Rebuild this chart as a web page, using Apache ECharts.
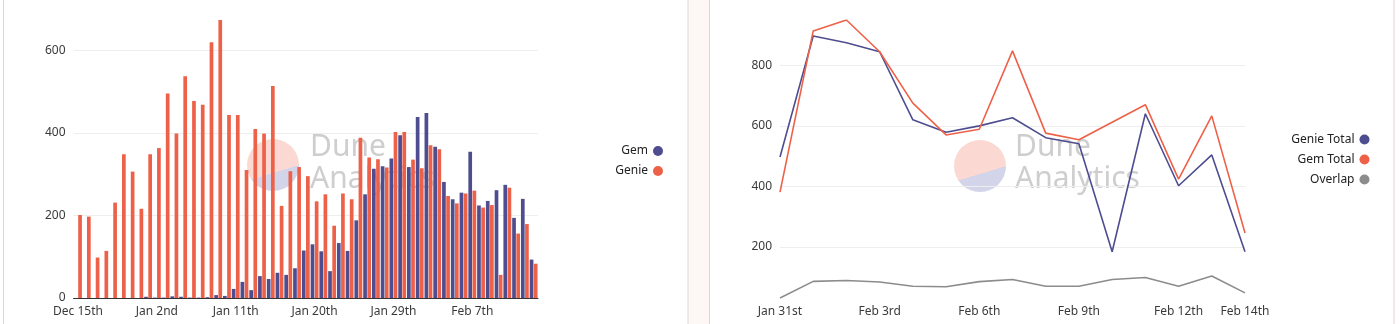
<!DOCTYPE html>
<html>
<head>
<meta charset="utf-8">
<script src="https://cdn.jsdelivr.net/npm/echarts@6/dist/echarts.min.js"></script>
<style>
html,body{margin:0;padding:0;background:#fff;}
#c{width:1400px;height:324px;}
</style>
</head>
<body>
<div id="c"></div>
<script>
// ---- Left chart: daily counts ----
const barDates = ["Dec 15th","Dec 17th","Dec 19th","Dec 21st","Dec 23rd","Dec 25th","Dec 27th","Dec 29th","Dec 31st",
  "Jan 2nd","Jan 3rd","Jan 4th","Jan 5th","Jan 6th","Jan 7th","Jan 8th","Jan 9th","Jan 10th","Jan 11th","Jan 12th",
  "Jan 13th","Jan 14th","Jan 15th","Jan 16th","Jan 17th","Jan 18th","Jan 19th","Jan 20th","Jan 21st","Jan 22nd",
  "Jan 23rd","Jan 24th","Jan 25th","Jan 26th","Jan 27th","Jan 28th","Jan 29th","Jan 30th","Jan 31st","Feb 1st",
  "Feb 2nd","Feb 3rd","Feb 4th","Feb 5th","Feb 6th","Feb 7th","Feb 8th","Feb 9th","Feb 10th","Feb 11th",
  "Feb 12th","Feb 13th","Feb 14th"];
const gemDaily = [0,0,0,0,0,0,0,0,3,1,1,4,3,1,1,2,7,5,22,39,19,53,46,61,56,72,115,130,113,65,133,114,188,251,313,319,338,394,317,438,448,366,281,239,255,354,224,235,261,274,194,240,93];
const genieDaily = [201,197,98,114,231,348,306,216,348,363,495,398,537,477,468,619,673,443,443,310,409,398,513,223,307,317,295,234,251,175,253,239,388,340,336,316,402,402,335,314,370,360,247,229,253,260,219,225,56,267,156,179,83];

// ---- Right chart: totals ----
const lineDates = ["Jan 31st","Feb 1st","Feb 2nd","Feb 3rd","Feb 4th","Feb 5th","Feb 6th","Feb 7th","Feb 8th","Feb 9th","Feb 10th","Feb 11th","Feb 12th","Feb 13th","Feb 14th"];
const genieTotal = [497,897,875,845,620,579,600,627,561,541,184,640,402,504,184];
const gemTotal = [381,914,950,845,675,570,589,848,576,554,612,670,424,633,246];
const overlap = [31,86,89,84,70,68,85,92,70,70,92,99,70,104,48];

const C_NAVY = '#4e4d8f';
const C_RED = '#ee6149';
const C_GREY = '#8c8c8c';
const FONT = 'Noto Sans';
const labelColor = '#3a3a3a';

const chart = echarts.init(document.getElementById('c'), null, {renderer:'canvas'});

function watermark(cx, cy, tx){
  return {
    type:'group', z:100, silent:true,
    children:[
      {type:'circle', shape:{cx:cx, cy:cy, r:26},
       style:{fill:new echarts.graphic.LinearGradient(0.35,0,0.65,1,[
         {offset:0,color:'rgba(250,200,192,0.7)'},{offset:0.64,color:'rgba(250,200,192,0.7)'},
         {offset:0.64,color:'rgba(196,198,226,0.75)'},{offset:1,color:'rgba(196,198,226,0.75)'}])}},
      {type:'text', x:tx, y:162, style:{text:'Dune', fill:'rgba(185,185,185,0.7)', font:'30px "'+FONT+'"', textVerticalAlign:'bottom', verticalAlign:'bottom'}},
      {type:'text', x:tx, y:194, style:{text:'Analytics', fill:'rgba(185,185,185,0.7)', font:'30px "'+FONT+'"', textVerticalAlign:'bottom', verticalAlign:'bottom'}}
    ]
  };
}

const option = {
  animation:false,
  backgroundColor:'#fff',
  textStyle:{fontFamily:FONT},
  graphic:[
    {type:'rect', z:-10, shape:{x:688,y:-2,width:21,height:330}, style:{fill:'#fdf8f6'}},
    {type:'rect', z:-9, shape:{x:3.5,y:-2,width:684.5,height:330}, style:{fill:'#fff', stroke:'#e4d3d0', lineWidth:1}},
    {type:'rect', z:-9, shape:{x:709.5,y:-2,width:684.5,height:330}, style:{fill:'#fff', stroke:'#e4d3d0', lineWidth:1}},
    watermark(273,165,310),
    watermark(980,166,1015)
  ],
  legend:[
    {orient:'vertical', align:'right', right:732, top:140, itemWidth:10, itemHeight:10, itemGap:8, icon:'circle',
     textStyle:{color:'#222', fontSize:12, fontFamily:FONT}, data:['Gem','Genie']},
    {orient:'vertical', align:'right', right:25.5, top:128.5, itemWidth:10, itemHeight:10, itemGap:8, icon:'circle',
     textStyle:{color:'#222', fontSize:12, fontFamily:FONT}, data:['Genie Total','Gem Total','Overlap']}
  ],
  grid:[
    {left:73.6, right:862, top:20, bottom:26},
    {left:780, right:155, top:20, bottom:26}
  ],
  xAxis:[
    {type:'category', gridIndex:0, data:barDates, boundaryGap:true,
     axisLine:{lineStyle:{color:'#333', width:1}}, axisTick:{show:false},
     axisLabel:{interval:8, color:labelColor, fontSize:12, margin:8, fontFamily:FONT}},
    {type:'category', gridIndex:1, data:lineDates, boundaryGap:false,
     axisLine:{show:false}, axisTick:{show:false},
     axisLabel:{interval:function(i){return i%3===0 || i===14;}, color:labelColor, fontSize:12, margin:8, fontFamily:FONT}}
  ],
  yAxis:[
    {type:'value', gridIndex:0, min:0, max:'dataMax', interval:200,
     axisLine:{show:false}, axisTick:{show:false},
     axisLabel:{color:labelColor, fontSize:12, margin:8, showMaxLabel:false, fontFamily:FONT},
     splitLine:{lineStyle:{color:'#eeeeee'}, showMaxLine:false, showMinLine:false}},
    {type:'value', gridIndex:1, min:'dataMin', max:'dataMax',
     axisLine:{show:false}, axisTick:{show:false},
     axisLabel:{color:labelColor, fontSize:12, margin:8, showMinLabel:false, showMaxLabel:false, fontFamily:FONT},
     splitLine:{lineStyle:{color:'#eeeeee'}, showMaxLine:false, showMinLine:false}}
  ],
  series:[
    {name:'Gem', type:'bar', xAxisIndex:0, yAxisIndex:0, data:gemDaily, barWidth:3.7, barGap:'12%', itemStyle:{color:C_NAVY}},
    {name:'Genie', type:'bar', xAxisIndex:0, yAxisIndex:0, data:genieDaily, barWidth:3.7, barGap:'12%', itemStyle:{color:C_RED}},
    {name:'Genie Total', type:'line', xAxisIndex:1, yAxisIndex:1, data:genieTotal, symbol:'none', lineStyle:{color:C_NAVY, width:1.6}, itemStyle:{color:C_NAVY}},
    {name:'Gem Total', type:'line', xAxisIndex:1, yAxisIndex:1, data:gemTotal, symbol:'none', lineStyle:{color:C_RED, width:1.6}, itemStyle:{color:C_RED}},
    {name:'Overlap', type:'line', xAxisIndex:1, yAxisIndex:1, data:overlap, symbol:'none', lineStyle:{color:C_GREY, width:1.6}, itemStyle:{color:C_GREY}}
  ]
};
chart.setOption(option);
</script>
</body>
</html>
